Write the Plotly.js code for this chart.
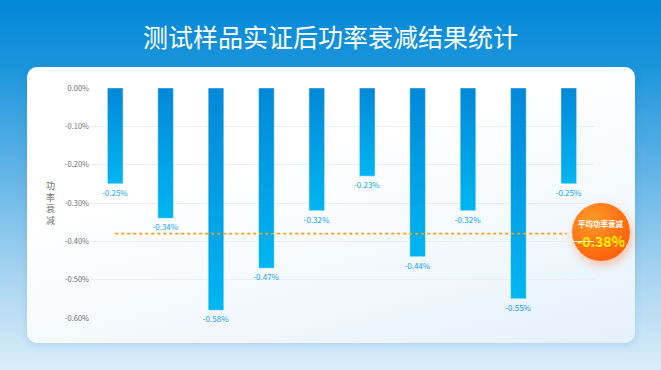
<!DOCTYPE html>
<html>
<head>
<meta charset="utf-8">
<script src="https://cdn.plot.ly/plotly-3.0.1.min.js"></script>
<style>
  html, body { margin: 0; padding: 0; }
  #wrap {
    position: relative; width: 661px; height: 370px; overflow: hidden;
    background: linear-gradient(180deg, #0287d6 0%, #1b95dc 18%, #5eb2e6 45%, #a9d5f1 75%, #d9edf9 100%);
  }
  #card {
    position: absolute; left: 27px; top: 67px; width: 608px; height: 276px;
    border-radius: 10px;
    background: linear-gradient(165deg, #ffffff 35%, #f2f8fd 70%, #e4f1fb 100%);
    box-shadow: 0 2px 8px rgba(0, 80, 160, 0.12);
  }
  #badge {
    position: absolute; left: 572px; top: 203px; width: 58px; height: 58px;
    border-radius: 50%;
    background: radial-gradient(circle at 35% 30%, #ff9a2a 0%, #ff7414 50%, #ff5500 100%);
    box-shadow: 2px 4px 10px rgba(255, 90, 0, 0.35);
  }
  #chart { position: absolute; left: 0; top: 0; width: 661px; height: 370px; }
</style>
</head>
<body>
<div id="wrap">
  <div id="card"></div>
  <div id="badge"></div>
  <div id="chart"></div>
</div>
<script>
const categories = ['样品1', '样品2', '样品3', '样品4', '样品5', '样品6', '样品7', '样品8', '样品9', '样品10'];
const decayValues = [-0.25, -0.34, -0.58, -0.47, -0.32, -0.23, -0.44, -0.32, -0.55, -0.25];
const averageDecay = -0.38;
const yTickValues = [0, -0.1, -0.2, -0.3, -0.4, -0.5, -0.6];
const yTickLabels = ['0.00%', '-0.10%', '-0.20%', '-0.30%', '-0.40%', '-0.50%', '-0.60%'];
const labelTexts = decayValues.map(v => '-' + Math.abs(v).toFixed(2) + '%');

const font = '"Noto Sans CJK SC", "Noto Sans", sans-serif';

const trace = {
  type: 'bar',
  x: categories,
  y: decayValues,
  width: 0.31,
  marker: { color: '#03a0e6', line: { width: 0 } },
  text: labelTexts,
  textposition: 'outside',
  constraintext: 'none',
  cliponaxis: false,
  textfont: { family: font, size: 8, color: '#14a3ec' },
  hoverinfo: 'skip'
};

const layout = {
  width: 661, height: 370,
  margin: { l: 90, r: 67, t: 88, b: 52 },
  paper_bgcolor: 'rgba(0,0,0,0)',
  plot_bgcolor: 'rgba(0,0,0,0)',
  showlegend: false,
  title: {
    text: '测试样品实证后功率衰减结果统计',
    font: { family: font, size: 25, color: '#ffffff' },
    x: 0.5, xanchor: 'center', y: 0.897, yanchor: 'middle', yref: 'container'
  },
  xaxis: {
    type: 'category', range: [-0.5, 9.5], showticklabels: false, showgrid: false,
    zeroline: false, showline: false, fixedrange: true
  },
  yaxis: {
    range: [-0.6, 0], tickvals: yTickValues, ticktext: yTickLabels,
    tickfont: { family: font, size: 7.5, color: '#707070' },
    showgrid: true, gridcolor: '#ebedf0', gridwidth: 1,
    zeroline: false, showline: false, ticks: '', fixedrange: true
  },
  shapes: [{
    type: 'line', xref: 'paper', yref: 'y', x0: 0.05, x1: 0.946, y0: averageDecay, y1: averageDecay,
    line: { color: '#ff9d14', width: 1.6, dash: 'dot' }
  }],
  annotations: [
    {
      text: '功<br>率<br>衰<br>减', xref: 'paper', yref: 'paper', x: -0.078, y: 0.5,
      xanchor: 'center', yanchor: 'middle', showarrow: false,
      font: { family: font, size: 9, color: '#707070' }, align: 'center'
    },
    {
      text: '<b>平均功率衰减</b>', xref: 'paper', yref: 'paper', x: 1.0142, y: 0.4087,
      xanchor: 'center', yanchor: 'middle', showarrow: false,
      font: { family: font, size: 7.5, color: '#ffffff' }
    },
    {
      text: '<b>' + '-' + Math.abs(averageDecay).toFixed(2) + '%</b>', xref: 'paper', yref: 'paper',
      x: 1.0142, y: 0.335,
      xanchor: 'center', yanchor: 'middle', showarrow: false,
      font: { family: font, size: 14, color: '#fff200' }
    }
  ]
};

Plotly.newPlot('chart', [trace], layout, { displayModeBar: false, staticPlot: true }).then(function (gd) {
  const svg = gd.querySelector('.main-svg');
  const ns = 'http://www.w3.org/2000/svg';
  let defs = svg.querySelector('defs');
  if (!defs) { defs = document.createElementNS(ns, 'defs'); svg.insertBefore(defs, svg.firstChild); }
  const grad = document.createElementNS(ns, 'linearGradient');
  grad.setAttribute('id', 'barGrad');
  grad.setAttribute('x1', '0'); grad.setAttribute('y1', '0');
  grad.setAttribute('x2', '0'); grad.setAttribute('y2', '1');
  [['0%', '#0288d8'], ['100%', '#00b6f1']].forEach(function (s) {
    const st = document.createElementNS(ns, 'stop');
    st.setAttribute('offset', s[0]); st.setAttribute('stop-color', s[1]);
    grad.appendChild(st);
  });
  defs.appendChild(grad);
  gd.querySelectorAll('.bars .point path').forEach(function (p) {
    p.style.fill = 'url(#barGrad)';
    p.style.stroke = 'rgba(255,255,255,0.7)';
    p.style.strokeWidth = '0.6px';
  });
});
</script>
</body>
</html>
